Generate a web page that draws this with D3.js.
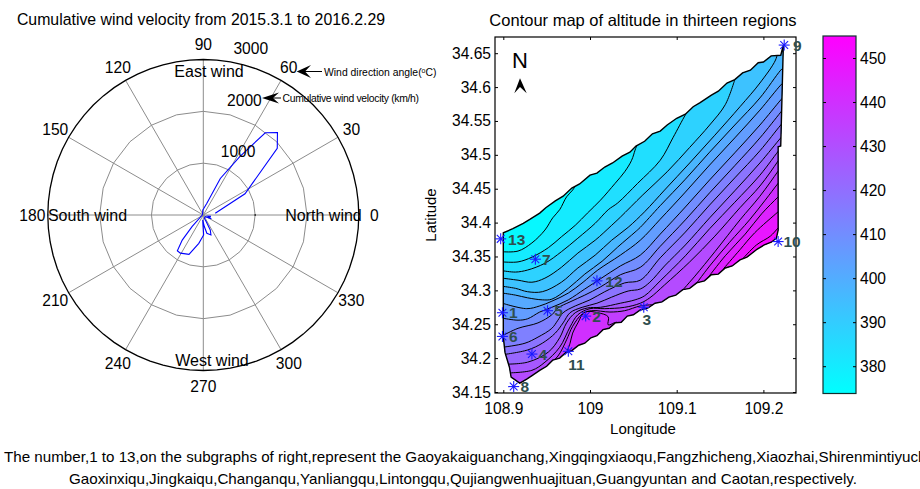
<!DOCTYPE html>
<html><head><meta charset="utf-8">
<script src="https://cdn.jsdelivr.net/npm/d3@7"></script>
<style>
html,body{margin:0;padding:0;background:#fff;overflow:hidden}
svg{display:block}
text{font-family:"Liberation Sans",Arial,sans-serif;fill:#000}
</style></head><body>
<svg id="c" width="920" height="489"></svg>
<script>
// ---- polar panel data
const windAngle=[8,27,42,48,53,58,65,73,85,95,110,150,200,226,230,234,239,250,261,271,263,275,281,291,295,294,287,320,335,345,350];
const windValue=[233,903,1920,2138,1987,1329,777,235,130,100,40,20,30,313,632,852,859,807,553,385,97,224,360,411,318,141,67,50,170,90,150];
const spokeAngles=[0,30,60,90,120,150];
const angleLabels=[0,30,60,90,120,150,180,210,240,270,300,330];
const radialTicks=[1000,2000,3000];
// ---- contour panel data
const regionOutline=[[109.223,34.662],[109.220,34.647],[109.209,34.646],[109.200,34.637],[109.194,34.636],[109.185,34.625],[109.176,34.621],[109.167,34.611],[109.158,34.606],[109.148,34.594],[109.140,34.588],[109.127,34.577],[109.119,34.571],[109.110,34.560],[109.100,34.554],[109.089,34.544],[109.081,34.535],[109.072,34.531],[109.063,34.520],[109.053,34.513],[109.046,34.504],[109.037,34.498],[109.026,34.488],[109.017,34.482],[109.008,34.473],[109.000,34.470],[108.988,34.457],[108.979,34.451],[108.969,34.439],[108.960,34.432],[108.949,34.422],[108.942,34.414],[108.931,34.405],[108.923,34.399],[108.911,34.391],[108.900,34.385],[108.900,34.231],[108.902,34.208],[108.907,34.187],[108.909,34.172],[108.919,34.163],[108.927,34.169],[108.934,34.175],[108.942,34.182],[108.950,34.188],[108.957,34.197],[108.965,34.200],[108.972,34.208],[108.979,34.211],[108.987,34.219],[108.994,34.222],[109.001,34.230],[109.008,34.233],[109.015,34.242],[109.022,34.244],[109.029,34.252],[109.036,34.253],[109.043,34.262],[109.050,34.264],[109.058,34.271],[109.067,34.274],[109.075,34.281],[109.083,34.283],[109.091,34.290],[109.099,34.293],[109.107,34.301],[109.115,34.303],[109.123,34.311],[109.132,34.314],[109.140,34.323],[109.148,34.324],[109.156,34.333],[109.164,34.336],[109.173,34.345],[109.181,34.349],[109.193,34.361],[109.201,34.367],[109.209,34.371],[109.215,34.377],[109.217,34.389],[109.217,34.512],[109.220,34.513]];
const contourLevels=[378,382,386,391,395,399,403,408,412,416,420,425,429,433,438,442,446,450];
const contourA=[[108.899,34.357],[108.917,34.358],[108.933,34.370],[108.948,34.389],[108.957,34.407],[108.965,34.419],[108.973,34.438],[108.980,34.448],[108.983,34.454]];
const contourB=[[108.899,34.342],[108.917,34.342],[108.933,34.349],[108.952,34.363],[108.967,34.379],[108.983,34.396],[108.997,34.414],[109.012,34.433],[109.029,34.458],[109.040,34.475],[109.048,34.492],[109.052,34.507],[109.054,34.514]];
const contourC=[[108.899,34.329],[108.914,34.327],[108.928,34.330],[108.948,34.340],[108.967,34.357],[108.986,34.377],[109.006,34.399],[109.021,34.419],[109.032,34.429],[109.055,34.458],[109.081,34.492],[109.096,34.526],[109.110,34.559],[109.115,34.569]];
const contourD=[[108.899,34.318],[108.917,34.315],[108.933,34.312],[108.948,34.318],[108.967,34.334],[108.986,34.355],[109.006,34.374],[109.025,34.396],[109.035,34.408],[109.061,34.441],[109.089,34.475],[109.115,34.511],[109.138,34.544],[109.156,34.574],[109.167,34.611]];
const contourE=[[108.899,34.306],[108.914,34.303],[108.928,34.298],[108.945,34.298],[108.967,34.312],[108.986,34.333],[109.006,34.352],[109.025,34.374],[109.044,34.393],[109.063,34.416],[109.086,34.448],[109.115,34.488],[109.144,34.529],[109.173,34.571],[109.196,34.606],[109.214,34.640],[109.217,34.655]];
const contourF=[[108.899,34.296],[108.914,34.293],[108.928,34.289],[108.945,34.286],[108.956,34.287],[108.975,34.303],[108.994,34.324],[109.014,34.343],[109.032,34.364],[109.052,34.386],[109.058,34.393],[109.081,34.425],[109.110,34.464],[109.138,34.504],[109.167,34.544],[109.196,34.584],[109.220,34.625],[109.225,34.631]];
const contourG=[[108.899,34.281],[108.927,34.273],[108.942,34.277],[108.956,34.284],[108.975,34.296],[108.992,34.312],[109.009,34.330],[109.035,34.352],[109.058,34.374],[109.081,34.405],[109.110,34.445],[109.138,34.485],[109.167,34.525],[109.196,34.566],[109.220,34.603],[109.225,34.609]];
const contourH=[[108.899,34.259],[108.917,34.256],[108.928,34.258],[108.942,34.268],[108.956,34.275],[108.975,34.286],[108.994,34.302],[109.012,34.317],[109.035,34.336],[109.058,34.352],[109.081,34.383],[109.110,34.423],[109.138,34.463],[109.167,34.503],[109.196,34.544],[109.220,34.581],[109.225,34.588]];
const contourI=[[108.899,34.233],[108.917,34.244],[108.940,34.252],[108.956,34.264],[108.963,34.274],[108.977,34.283],[108.994,34.293],[109.012,34.305],[109.035,34.323],[109.058,34.334],[109.081,34.365],[109.110,34.404],[109.138,34.444],[109.167,34.484],[109.196,34.525],[109.220,34.563],[109.225,34.571]];
const contourJ=[[108.899,34.216],[108.925,34.222],[108.940,34.231],[108.956,34.244],[108.963,34.256],[108.969,34.267],[108.983,34.277],[109.000,34.286],[109.017,34.298],[109.040,34.311],[109.058,34.315],[109.081,34.348],[109.110,34.386],[109.138,34.426],[109.167,34.466],[109.196,34.506],[109.220,34.544],[109.225,34.551]];
const contourK=[[108.899,34.205],[108.928,34.212],[108.945,34.222],[108.960,34.237],[108.969,34.252],[108.977,34.267],[108.991,34.275],[109.008,34.281],[109.025,34.290],[109.044,34.299],[109.058,34.302],[109.069,34.312],[109.086,34.336],[109.110,34.367],[109.138,34.407],[109.167,34.447],[109.196,34.488],[109.220,34.525],[109.225,34.532]];
const contourL=[[108.899,34.191],[108.928,34.194],[108.952,34.209],[108.965,34.230],[108.973,34.252],[108.983,34.267],[108.997,34.274],[109.012,34.275],[109.035,34.281],[109.052,34.286],[109.063,34.292],[109.081,34.314],[109.110,34.351],[109.138,34.391],[109.167,34.430],[109.196,34.470],[109.220,34.510],[109.225,34.517]];
const contourM=[[108.902,34.178],[108.933,34.182],[108.948,34.194],[108.965,34.216],[108.977,34.246],[108.986,34.264],[109.000,34.273],[109.017,34.273],[109.040,34.275],[109.058,34.281],[109.069,34.289],[109.086,34.308],[109.115,34.342],[109.144,34.380],[109.173,34.422],[109.196,34.454],[109.217,34.491],[109.225,34.507]];
const contourNwest=[[108.927,34.163],[108.948,34.185],[108.963,34.203],[108.973,34.227],[108.980,34.247],[108.991,34.265],[109.002,34.270],[109.023,34.268],[109.040,34.270],[109.058,34.277],[109.075,34.279]];
const contourNeast=[[109.101,34.292],[109.121,34.321],[109.144,34.357],[109.173,34.404],[109.196,34.439],[109.217,34.476],[109.225,34.491]];
const contourOwest=[[108.972,34.205],[108.977,34.222],[108.980,34.237],[108.986,34.252],[108.994,34.268],[109.009,34.267],[109.021,34.261],[109.021,34.249],[109.031,34.253],[109.037,34.247]];
const contourOeast=[[109.118,34.302],[109.138,34.336],[109.161,34.371],[109.184,34.404],[109.202,34.433],[109.217,34.458],[109.225,34.470]];
const contourP=[[109.135,34.317],[109.156,34.351],[109.179,34.383],[109.198,34.413],[109.217,34.438],[109.225,34.448]];
const contourQ=[[109.154,34.332],[109.173,34.360],[109.190,34.385],[109.217,34.416],[109.225,34.425]];
const contourR=[[109.175,34.345],[109.192,34.367],[109.208,34.380],[109.217,34.392],[109.225,34.402]];
const stationLon=[108.899,108.995,109.062,108.933,108.951,108.899,108.937,108.912,109.224,109.217,108.975,109.008,108.897];
const stationLat=[34.267,34.262,34.275,34.206,34.270,34.232,34.346,34.158,34.662,34.372,34.210,34.314,34.376];
const stationNames=["1","2","3","4","5","6","7","8","9","10","11","12","13"];
const lonTicks=[108.9,109,109.1,109.2];
const latTicks=[34.15,34.2,34.25,34.3,34.35,34.4,34.45,34.5,34.55,34.6,34.65];
const barTicks=[380,390,400,410,420,430,440,450];
const altitudeRange=[373.8,455];
const footerLines=["The number,1 to 13,on the subgraphs of right,represent the Gaoyakaiguanchang,Xingqingxiaoqu,Fangzhicheng,Xiaozhai,Shirenmintiyuchang,","Gaoxinxiqu,Jingkaiqu,Changanqu,Yanliangqu,Lintongqu,Qujiangwenhuajituan,Guangyuntan and Caotan,respectively."];

const svg=d3.select("#c");
const txt=(g,x,y,s,size,anchor="middle")=>g.append("text").attr("x",x).attr("y",y).attr("font-size",size).attr("text-anchor",anchor).text(s);
const FS=15.6;

// ---------- polar
const cx=203.3,cy=215,rMax=155.5;
const r=d3.scaleLinear().domain([0,3000]).range([0,rMax]);
const pol=svg.append("g").attr("transform",`translate(${cx},${cy})`);
const rad=a=>(90-a)*Math.PI/180;
const ringAngles=d3.range(0,361,15);
const ring=v=>d3.lineRadial().angle(a=>rad(a)).radius(()=>r(v))(ringAngles);
spokeAngles.forEach(a=>{
  const dx=Math.cos(a*Math.PI/180)*rMax,dy=Math.sin(a*Math.PI/180)*rMax;
  pol.append("line").attr("x1",-dx).attr("y1",dy).attr("x2",dx).attr("y2",-dy).attr("stroke","#8c8c8c").attr("stroke-width",1);
});
radialTicks.slice(0,2).forEach(v=>pol.append("path").attr("d",ring(v)).attr("fill","none").attr("stroke","#8c8c8c").attr("stroke-width",1));
pol.append("path").attr("d",d3.lineRadial().angle(a=>rad(a)).radius(()=>r(3000))(d3.range(0,361,5))).attr("fill","none").attr("stroke","#000").attr("stroke-width",1.3);
pol.append("line").attr("x1",r(1000)).attr("x2",r(1000)).attr("y1",-1).attr("y2",1).attr("stroke","#000");
const windPts=windAngle.map((a,i)=>[a,windValue[i]]);
pol.append("path").attr("d",d3.lineRadial().angle(d=>rad(d[0])).radius(d=>r(d[1]))(windPts)).attr("fill","none").attr("stroke","#0000ff").attr("stroke-width",1.1);
angleLabels.forEach(a=>{
  const R=r(3000)+15.5;
  pol.append("text").attr("x",R*Math.cos(a*Math.PI/180)).attr("y",-R*Math.sin(a*Math.PI/180)).attr("dy","0.36em").attr("font-size",FS).attr("text-anchor","middle").text(a);
});
radialTicks.forEach(v=>{
  pol.append("text").attr("x",r(v)*Math.cos(83*Math.PI/180)+28.5).attr("y",-r(v)*Math.sin(83*Math.PI/180)-12).attr("dy","0.36em").attr("font-size",FS).attr("text-anchor","middle").text(v);
});
txt(svg,209,77,"East wind",16);
txt(svg,87.5,221,"South wind",16);
txt(svg,323.5,221,"North wind",16);
txt(svg,212,366,"West wind",16);
txt(svg,201,25,"Cumulative wind velocity from 2015.3.1 to 2016.2.29",15.85);

// annotation arrows
const head=(tip,back,half,notch,tail)=>{
  const y=tip[1];
  svg.append("path").attr("d",`M${tip[0]},${y}L${back},${y-half}L${notch},${y}L${back},${y+half}Z`).attr("fill","#000");
  svg.append("line").attr("x1",notch).attr("x2",tail).attr("y1",y).attr("y2",y).attr("stroke","#000").attr("stroke-width",1);
};
head([296.7,71.5],311,6.5,305,322);
head([262,98],279,5.5,273,281);
const ann=svg.append("text").attr("x",324).attr("y",75.5).attr("font-size",10.4);
ann.append("tspan").text("Wind direction angle(");
ann.append("tspan").attr("font-size",7).attr("dy",-3).text("o");
ann.append("tspan").attr("dy",3).text("C)");
svg.append("text").attr("x",282.5).attr("y",102).attr("font-size",10.4).attr("textLength",136.5).attr("lengthAdjust","spacing").text("Cumulative wind velocity (km/h)");

// ---------- contour panel
const L=495,R_=796,T=37,B=393;
const x=d3.scaleLinear().domain([108.9,109.2]).range([503.3,763.4]);
const y=d3.scaleLinear().domain([34.15,34.65]).range([392,53.2]);
const color=d3.scaleLinear().domain(altitudeRange).range(["#00ffff","#ff00ff"]);
const pt=d=>[x(d[0]),y(d[1])];
const outline=d3.line().x(d=>x(d[0])).y(d=>y(d[1])).curve(d3.curveLinearClosed);
const curve=d3.line().x(d=>x(d[0])).y(d=>y(d[1])).curve(d3.curveCatmullRom.alpha(0.5));
svg.append("defs").append("clipPath").attr("id","reg").append("path").attr("d",outline(regionOutline));
const g=svg.append("g").attr("clip-path","url(#reg)");
g.append("path").attr("d",outline(regionOutline)).attr("fill",color(376));
const farS=34.0,farE=109.6;
// each band is the area on the high side of its contour
const band=(line,lv,open)=>{
  const f=line[0],l=line[line.length-1];
  const close=(open?[[l[0]+0.35,l[1]+0.38],[farE,farS],[f[0],farS]]:[[l[0],farS],[f[0],farS]]);
  const ds=curve(line)+close.map(p=>"L"+pt(p).join(",")).join("")+"Z";
  g.append("path").attr("d",ds).attr("fill",color(lv+2.1));
};
const series=[[contourA],[contourB],[contourC],[contourD],[contourE],[contourF],[contourG],[contourH],[contourI],[contourJ],[contourK],[contourL],[contourM],[contourNwest,contourNeast],[contourOwest,contourOeast],[contourP],[contourQ],[contourR]];
series.forEach((set,i)=>set.forEach(line=>band(line,contourLevels[i],!(line===contourNwest||line===contourOwest))));
series.forEach(set=>set.forEach(line=>g.append("path").attr("d",curve(line)).attr("fill","none").attr("stroke","#000").attr("stroke-width",1)));
svg.append("path").attr("d",outline(regionOutline)).attr("fill","none").attr("stroke","#000").attr("stroke-width",1.4);

// axes
const fmtLon=d=>d===109?"109":d3.format(".1f")(d);
const style=a=>{a.selectAll("text").attr("font-size",FS).attr("font-family",'"Liberation Sans",Arial,sans-serif').attr("fill","#000");a.selectAll(".domain").remove();a.selectAll("line").attr("stroke","#000");};
const ax=svg.append("g").attr("transform",`translate(0,${B})`).call(d3.axisBottom(x).tickValues(lonTicks).tickFormat(fmtLon).tickSizeInner(-3).tickSizeOuter(0).tickPadding(10));style(ax);
const at=svg.append("g").attr("transform",`translate(0,${T})`).call(d3.axisTop(x).tickValues(lonTicks).tickFormat("").tickSizeInner(-3).tickSizeOuter(0));style(at);
const ay=svg.append("g").attr("transform",`translate(${L},0)`).call(d3.axisLeft(y).tickValues(latTicks).tickFormat(d3.format(".2~f")).tickSizeInner(-3).tickSizeOuter(0).tickPadding(4));style(ay);
const ar=svg.append("g").attr("transform",`translate(${R_},0)`).call(d3.axisRight(y).tickValues(latTicks).tickFormat("").tickSizeInner(-3).tickSizeOuter(0));style(ar);
svg.append("rect").attr("x",L).attr("y",T).attr("width",R_-L).attr("height",B-T).attr("fill","none").attr("stroke","#000").attr("stroke-width",1.2);
txt(svg,643,434,"Longitude",15);
svg.append("text").attr("transform","translate(436,215) rotate(-90)").attr("font-size",15).attr("text-anchor","middle").text("Latitude");
txt(svg,643,26,"Contour map of altitude in thirteen regions",16.5);

// compass
txt(svg,520,68,"N",22);
svg.append("path").attr("d","M520,78.3L514.3,93.3L520,87L526.7,93.3Z").attr("fill","#000");

// stations
const offs={"3":[3,12],"11":[8,13],"12":[17,1],"10":[14,0],"9":[13,0],"13":[16,1]};
stationNames.forEach((n,i)=>{
  const px=x(stationLon[i]),py=y(stationLat[i]);
  const gs=svg.append("g").attr("transform",`translate(${px},${py})`).attr("stroke","#1a1aff").attr("stroke-width",1.1);
  [0,45,90,135].forEach(a=>{
    const c=5.5*Math.cos(a*Math.PI/180),s=5.5*Math.sin(a*Math.PI/180);
    gs.append("line").attr("x1",-c).attr("y1",-s).attr("x2",c).attr("y2",s);
  });
  const o=offs[n]||[11,0];
  svg.append("text").attr("x",px+o[0]).attr("y",py+o[1]).attr("dy","0.36em").attr("font-size",15.5).attr("font-weight","bold").attr("text-anchor","middle").style("fill","#2f4f4f").text(n);
});

// colour bar
const cb=d3.scaleLinear().domain(altitudeRange).range([393.5,36]);
const bx=823,bw=33;
const gd=svg.select("defs").append("linearGradient").attr("id","bar").attr("x1",0).attr("x2",0).attr("y1",1).attr("y2",0);
gd.append("stop").attr("offset",0).attr("stop-color",color(altitudeRange[0]));
gd.append("stop").attr("offset",1).attr("stop-color",color(altitudeRange[1]));
svg.append("rect").attr("x",bx).attr("y",cb.range()[1]).attr("width",bw).attr("height",cb.range()[0]-cb.range()[1]).attr("fill","url(#bar)").attr("stroke","#10302f").attr("stroke-width",1.2);
const bl=svg.append("g").attr("transform",`translate(${bx},0)`).call(d3.axisRight(cb).tickValues(barTicks).tickSizeInner(3).tickFormat("").tickSizeOuter(0));style(bl);
const br=svg.append("g").attr("transform",`translate(${bx+bw},0)`).call(d3.axisLeft(cb).tickValues(barTicks).tickSizeInner(3).tickFormat("").tickSizeOuter(0));style(br);
barTicks.forEach(v=>txt(svg,bx+bw+4,cb(v),v,FS,"start").attr("dy","0.36em"));

// footer
txt(svg,4,462,footerLines[0],14.5,"start").attr("textLength",952).attr("lengthAdjust","spacingAndGlyphs");
txt(svg,463,484,footerLines[1],14.5).attr("textLength",788).attr("lengthAdjust","spacingAndGlyphs");
</script></body></html>
